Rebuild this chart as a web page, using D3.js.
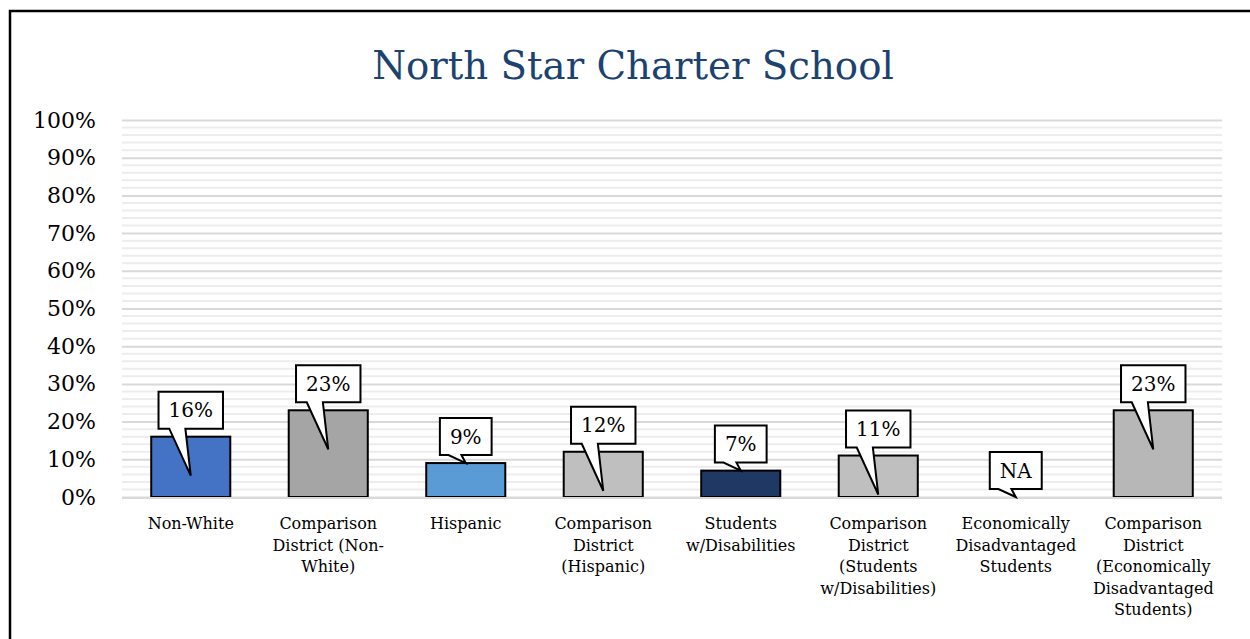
<!DOCTYPE html>
<html>
<head>
<meta charset="utf-8">
<script src="https://cdn.jsdelivr.net/npm/d3@7"></script>
<style>
  html, body { margin: 0; padding: 0; background: #fff; }
  svg { display: block; font-family: "DejaVu Serif", serif; }
</style>
</head>
<body>
<div id="chart"></div>
<script>
// Chart data
const TITLE = 'North Star Charter School';
const CATEGORY_LINES = [
  ['Non-White'],
  ['Comparison', 'District (Non-', 'White)'],
  ['Hispanic'],
  ['Comparison', 'District', '(Hispanic)'],
  ['Students', 'w/Disabilities'],
  ['Comparison', 'District', '(Students', 'w/Disabilities)'],
  ['Economically', 'Disadvantaged', 'Students'],
  ['Comparison', 'District', '(Economically', 'Disadvantaged', 'Students)'],
];
const VALUES = [0.16, 0.23, 0.09, 0.12, 0.07, 0.11, null, 0.23];
const BAR_COLORS = ['#4472C4', '#A5A5A5', '#5B9BD5', '#BFBFBF', '#203864', '#BFBFBF', '#BFBFBF', '#B7B7B7'];
const Y_TICKS = [0, 0.1, 0.2, 0.3, 0.4, 0.5, 0.6, 0.7, 0.8, 0.9, 1.0];

const W = 1250, H = 639;
const M = { left: 122, right: 28, top: 120, bottom: 142 };

const svg = d3.select('#chart').append('svg').attr('width', W).attr('height', H);

// frame
svg.append('rect')
  .attr('x', 10).attr('y', 11).attr('width', W + 20).attr('height', H + 20)
  .attr('fill', 'none').attr('stroke', '#000').attr('stroke-width', 2.5);

// title, fitted to the width it takes in the reference
const title = svg.append('text')
  .attr('x', 633).attr('y', 79)
  .attr('text-anchor', 'middle')
  .attr('fill', '#1C4370')
  .style('font-size', '40px')
  .text(TITLE);
const tw = title.node().getComputedTextLength();
title.style('font-size', (40 * 522 / tw).toFixed(1) + 'px');

const x = d3.scaleBand()
  .domain(d3.range(VALUES.length))
  .range([M.left, W - M.right])
  .paddingInner(0.425)
  .paddingOuter(0.2125);

const y = d3.scaleLinear().domain([0, 1]).range([H - M.bottom, M.top]);

// gridlines: minor every 2%, major every 10%
const minor = d3.range(0, 101, 2).filter(v => v % 10 !== 0).map(v => v / 100);
svg.append('g').selectAll('line').data(minor).join('line')
  .attr('x1', M.left).attr('x2', W - M.right)
  .attr('y1', d => y(d)).attr('y2', d => y(d))
  .attr('stroke', '#EDEDED').attr('stroke-width', 2);

const yAxis = svg.append('g')
  .attr('transform', `translate(${M.left},0)`)
  .call(d3.axisLeft(y).tickValues(Y_TICKS).tickFormat(d3.format('.0%'))
    .tickSize(-(W - M.left - M.right)).tickPadding(26));
yAxis.select('.domain').remove();
yAxis.selectAll('.tick line').attr('stroke', '#D9D9D9').attr('stroke-width', 2);
yAxis.selectAll('.tick text')
  .attr('fill', '#000')
  .style('font-family', '"DejaVu Serif", serif')
  .style('font-size', '22px');

// bars
const bars = VALUES.map((v, i) => ({ i, v, color: BAR_COLORS[i] }));
svg.append('g').selectAll('rect').data(bars.filter(d => d.v != null)).join('rect')
  .attr('x', d => x(d.i))
  .attr('y', d => y(d.v))
  .attr('width', x.bandwidth())
  .attr('height', d => y(0) - y(d.v))
  .attr('fill', d => d.color)
  .attr('stroke', '#000')
  .attr('stroke-width', 2);

// baseline over the bar bottoms
svg.append('line')
  .attr('x1', M.left).attr('x2', W - M.right)
  .attr('y1', y(0) + 1).attr('y2', y(0) + 1)
  .attr('stroke', '#D9D9D9').attr('stroke-width', 2);

// callout labels
const BOX_H = 37, GAP = 8, PAD = 10;
const callouts = svg.append('g');
bars.forEach(d => {
  const cx = x(d.i) + x.bandwidth() / 2;
  const top = y(d.v || 0);
  const tipY = d.v != null && d.v >= 0.1 ? top + 39 : top;
  const label = d.v == null ? 'NA' : d3.format('.0%')(d.v);

  const g = callouts.append('g');
  const t = g.append('text')
    .attr('x', cx).attr('y', top - GAP - BOX_H / 2)
    .attr('text-anchor', 'middle').attr('dy', '0.36em')
    .style('font-size', '20px').attr('fill', '#000')
    .text(label);
  const bw = t.node().getComputedTextLength() + PAD * 2;
  const l = cx - bw / 2, r = cx + bw / 2, b = top - GAP, tp = b - BOX_H;
  const path = d3.path();
  path.moveTo(l, tp);
  path.lineTo(r, tp);
  path.lineTo(r, b);
  path.lineTo(l + bw * 5 / 12, b);
  path.lineTo(cx, tipY);
  path.lineTo(l + bw * 2 / 12, b);
  path.lineTo(l, b);
  path.closePath();
  g.insert('path', 'text')
    .attr('d', path.toString())
    .attr('fill', '#fff').attr('stroke', '#000').attr('stroke-width', 2)
    .attr('stroke-linejoin', 'miter');
});

// category labels
const catG = svg.append('g');
CATEGORY_LINES.forEach((lines, i) => {
  const t = catG.append('text')
    .attr('x', x(i) + x.bandwidth() / 2)
    .attr('y', 529)
    .attr('text-anchor', 'middle')
    .attr('fill', '#000')
    .style('font-size', '16px');
  lines.forEach((ln, k) => {
    t.append('tspan').attr('x', x(i) + x.bandwidth() / 2).attr('dy', k === 0 ? 0 : 21.5).text(ln);
  });
});
</script>
</body>
</html>
